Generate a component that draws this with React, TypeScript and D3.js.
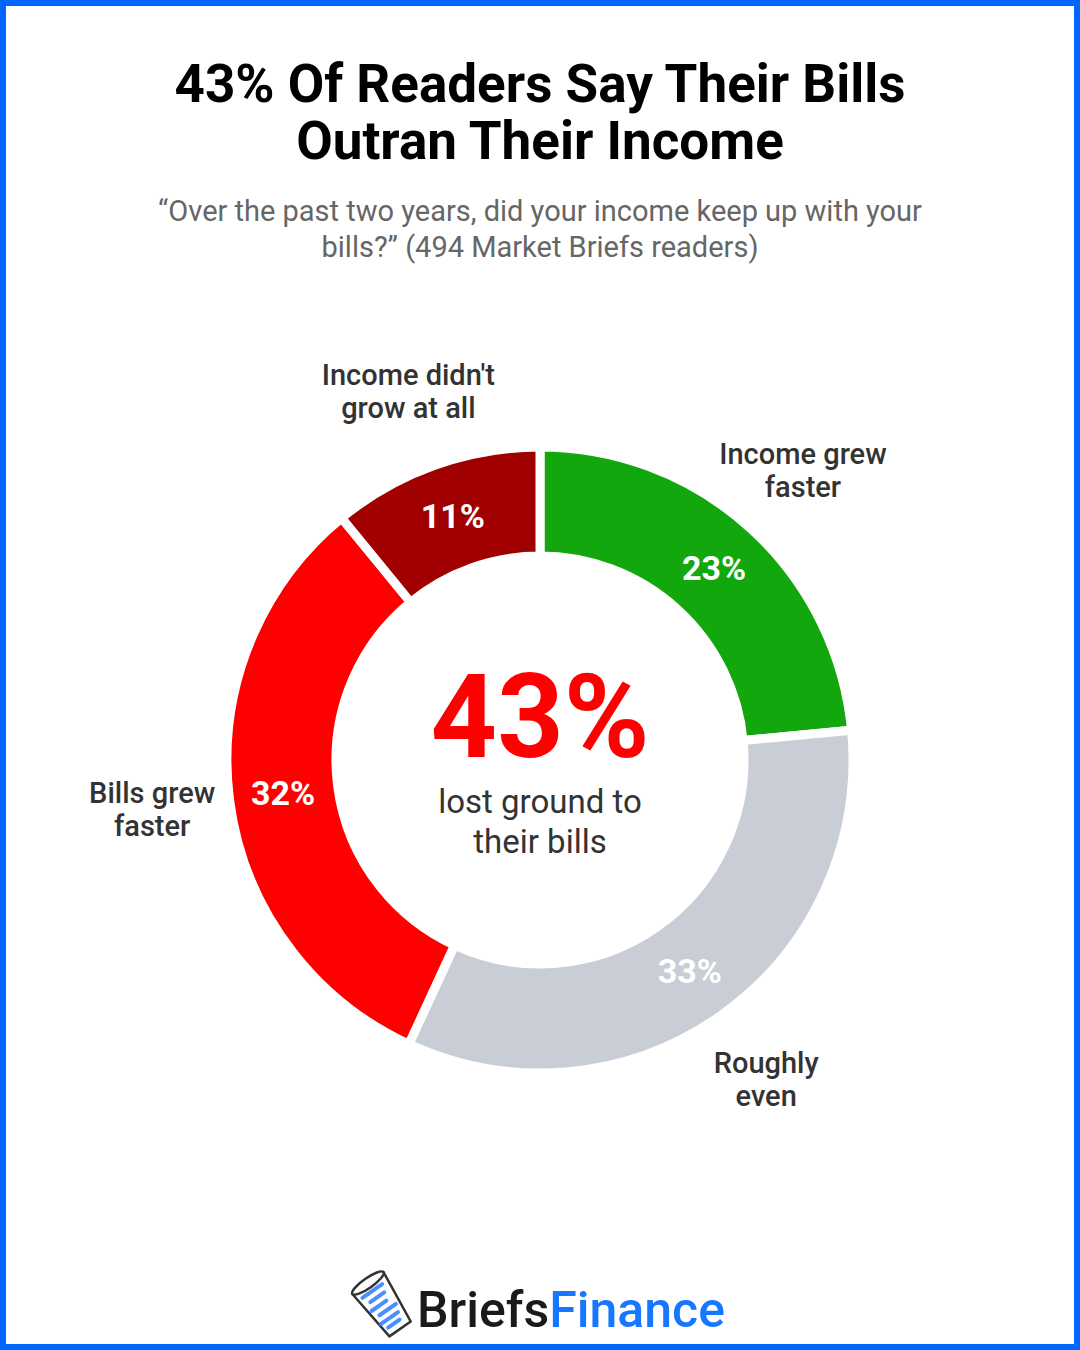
import React, { useEffect } from "react";
import * as d3 from "d3";

const categories = ["Income grew faster", "Roughly even", "Bills grew faster", "Income didn't grow at all"];
const counts = [116, 165, 159, 54];
const labelLines = [["Income grew", "faster"], ["Roughly", "even"], ["Bills grew", "faster"], ["Income didn't", "grow at all"]];
const colors = ["#12A70D", "#C9CDD6", "#FF0000", "#A10000"];
const titleLines = ["43% Of Readers Say Their Bills", "Outran Their Income"];
const subtitleLines = ["\u201COver the past two years, did your income keep up with your", "bills?\u201D (494 Market Briefs readers)"];
const centerValue = "43%";
const centerLines = ["lost ground to", "their bills"];

const W = 1080;
const H = 1350;
const cx = 540;
const cy = 760;
const R = 313;
const r = 204;
const FONT = "Roboto, 'Noto Sans', sans-serif";

export default function App() {
  useEffect(() => {
    document.body.style.margin = "0";
  }, []);
  const total = d3.sum(counts);
  const pie = d3.pie<number>().sort(null).value((d) => d).startAngle(0).endAngle(2 * Math.PI);
  const arcs = pie(counts);
  const arc = d3.arc<d3.PieArcDatum<number>>().innerRadius(r).outerRadius(R);
  const midArc = d3.arc<d3.PieArcDatum<number>>().innerRadius(259).outerRadius(259);
  const outerArc = d3.arc<d3.PieArcDatum<number>>().innerRadius(391).outerRadius(391);
  const pct = (v: number) => `${Math.round((v / total) * 100)}%`;

  return (
    <svg width={W} height={H} viewBox={`0 0 ${W} ${H}`} style={{ display: "block", fontFamily: FONT }}>
      <rect x={0} y={0} width={W} height={H} fill="#ffffff" />
      <rect x={3} y={3} width={W - 6} height={H - 6} fill="none" stroke="#0066FF" strokeWidth={6} />

      {titleLines.map((t, i) => (
        <text key={i} x={W / 2} y={102 + i * 57} textAnchor="middle" fontSize={53} fontWeight={700} fill="#000">
          {t}
        </text>
      ))}
      {subtitleLines.map((t, i) => (
        <text key={i} x={W / 2} y={221 + i * 36} textAnchor="middle" fontSize={29} fill="#666">
          {t}
        </text>
      ))}

      <g transform={`translate(${cx},${cy})`}>
        {arcs.map((a, i) => (
          <path key={categories[i]} d={arc(a) as string} fill={colors[i]} stroke="#fff" strokeWidth={9} strokeLinejoin="miter" />
        ))}
        {arcs.map((a, i) => {
          const [x, y] = midArc.centroid(a);
          return (
            <text key={"p" + i} x={x} y={y} dy="0.35em" textAnchor="middle" fontSize={34} fontWeight={700} fill="#fff">
              {pct(a.value)}
            </text>
          );
        })}
        {arcs.map((a, i) => {
          const [x, y] = outerArc.centroid(a);
          const lines = labelLines[i];
          return (
            <text key={"l" + i} x={x} y={y} textAnchor="middle" fontSize={29} fontWeight={500} fill="#333">
              {lines.map((ln, j) => (
                <tspan key={j} x={x} y={y + (j - (lines.length - 1) / 2) * 33} dy="0.35em">
                  {ln}
                </tspan>
              ))}
            </text>
          );
        })}
        <text x={0} y={-3} textAnchor="middle" fontSize={116} fontWeight={700} fill="#FF0000">
          {centerValue}
        </text>
        {centerLines.map((t, i) => (
          <text key={i} x={0} y={53 + i * 40} textAnchor="middle" fontSize={33} fill="#333">
            {t}
          </text>
        ))}
      </g>

      <g transform="translate(384,1306) rotate(-35)">
        <path d="M-19,-28 L19,-28 L13,28 L-13,28 Z" fill="#fff" stroke="#333" strokeWidth={2.5} strokeLinejoin="round" />
        <ellipse cx={0} cy={-28} rx={19} ry={5} fill="#fff" stroke="#333" strokeWidth={2.5} />
        {[-19, -11, -3, 5, 13, 20].map((yy, k) => (
          <line key={k} x1={-13 + (k % 2) * 4} y1={yy} x2={11 - (k % 3) * 3} y2={yy} stroke="#2B7BFF" strokeWidth={4} strokeLinecap="round" opacity={0.85} />
        ))}
      </g>
      <text x={417} y={1327} fontSize={50} fontWeight={500} fill="#1a1a1a">
        Briefs<tspan fill="#1877FF">Finance</tspan>
      </text>
    </svg>
  );
}
